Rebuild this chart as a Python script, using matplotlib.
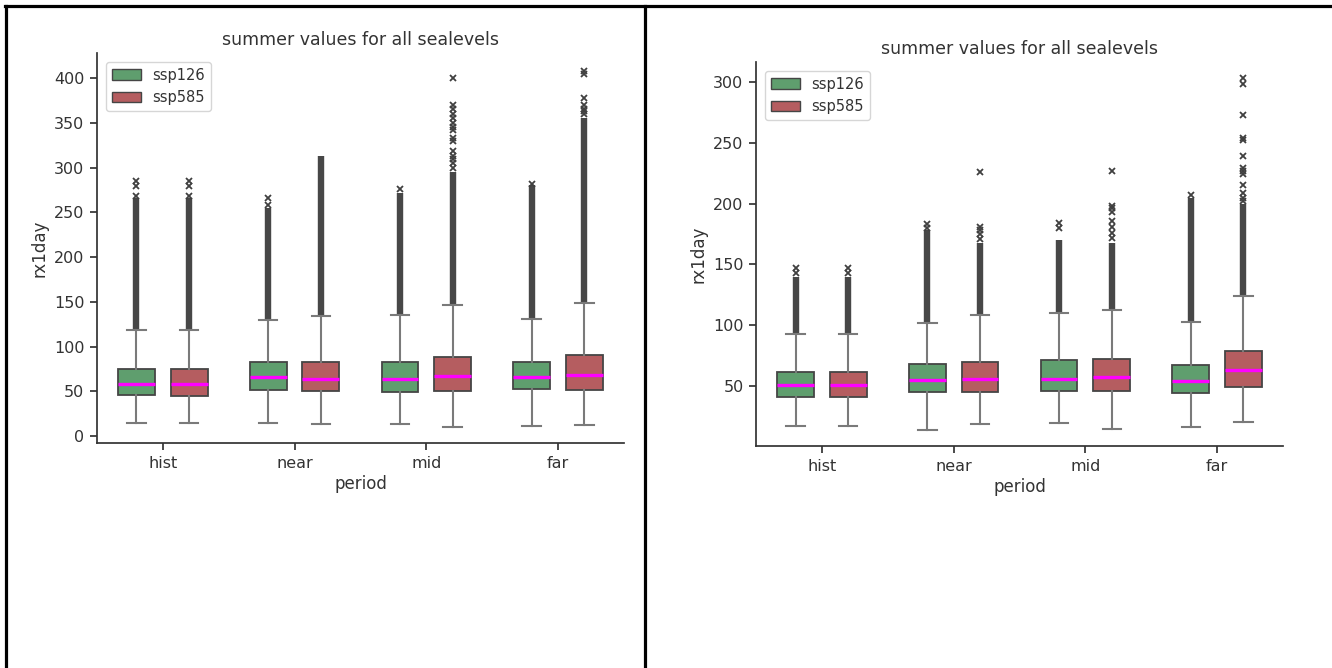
import numpy as np
import matplotlib
matplotlib.use("Agg")
import matplotlib.pyplot as plt
from matplotlib.lines import Line2D
from matplotlib.patches import Patch

# periods on the x axis
periods = ['hist', 'near', 'mid', 'far']

# ---- left screenshot: box stats ----
l126_q1 = [45.5, 51.1, 48.9, 52.2]
l126_med = [58.6, 65.7, 64.2, 65.7]
l126_q3 = [74.6, 83.2, 83.2, 83.2]
l126_lo = [14.9, 14.9, 13.4, 11.2]
l126_hi = [118.7, 129.5, 135.4, 130.6]
l126_dense_top = [266, 255, 272, 280]   # top of the packed flier column
l126_fliers = [[268, 279, 285], [258, 266], [276], [282]]

l585_q1 = [44.8, 50.0, 50.0, 51.1]
l585_med = [58.6, 64.2, 66.8, 68.3]
l585_q3 = [74.6, 83.2, 88.0, 90.7]
l585_lo = [14.9, 13.4, 10.0, 12.3]
l585_hi = [118.7, 134.3, 145.9, 148.5]
l585_dense_top = [266, 313, 295, 355]
l585_fliers = [[268, 279, 285], [],
               [300, 305, 310, 313, 318, 330, 333, 342, 345, 350, 355,
                360, 365, 370, 400],
               [360, 363, 366, 370, 378, 405, 408]]

# ---- right screenshot ----
r126_q1 = [41.1, 45.0, 45.6, 43.9]
r126_med = [50.8, 55.3, 56.1, 54.4]
r126_q3 = [61.9, 68.0, 71.4, 67.2]
r126_lo = [17.2, 13.9, 20.0, 16.4]
r126_hi = [92.5, 101.9, 110.3, 102.8]
r126_dense_top = [140, 178, 170, 205]
r126_fliers = [[143, 147], [180, 183], [180, 184], [207]]

r585_q1 = [41.1, 45.0, 45.6, 48.9]
r585_med = [50.8, 56.1, 57.8, 63.0]
r585_q3 = [61.9, 69.7, 72.2, 79.2]
r585_lo = [17.2, 19.2, 14.7, 20.8]
r585_hi = [92.5, 108.0, 112.2, 124.0]
r585_dense_top = [140, 168, 168, 200]
r585_fliers = [[143, 147], [171, 175, 178, 181, 226],
               [172, 176, 181, 186, 193, 196, 198, 227],
               [202, 205, 209, 215, 224, 227, 229, 239, 252, 254, 273,
                298, 303]]

green = '#5f9e6e'
red = '#b55d60'
edge = '#454545'
whisk = '#7a7a7a'
txt = '#333333'

plt.rcParams['font.family'] = 'DejaVu Sans'
plt.rcParams['text.color'] = txt
plt.rcParams['axes.labelcolor'] = txt
plt.rcParams['xtick.color'] = txt
plt.rcParams['ytick.color'] = txt


def stats(q1, med, q3, lo, hi, fl):
    out = []
    for i in range(len(q1)):
        out.append({'q1': q1[i], 'med': med[i], 'q3': q3[i],
                    'whislo': lo[i], 'whishi': hi[i], 'fliers': fl[i]})
    return out


def draw(ax, groups, ylim, yticks):
    x = np.arange(len(periods))
    for (st, dense, color, off) in groups:
        pos = x + off
        # packed outliers drawn as a thick column
        ax.vlines(pos, [s['whishi'] for s in st], dense, color='#474747',
                  lw=4.6, zorder=1)
        ax.bxp(st, positions=pos, widths=0.28, patch_artist=True,
               capwidths=0.14, manage_ticks=False,
               boxprops=dict(facecolor=color, edgecolor=edge, lw=1.3),
               whiskerprops=dict(color=whisk, lw=1.5),
               capprops=dict(color=whisk, lw=1.5),
               medianprops=dict(color='#ff00ff', lw=2.4),
               flierprops=dict(marker='x', markersize=4.2,
                               markeredgecolor='#404040', mew=1.3))
    ax.set_xticks(x)
    ax.set_xticklabels(periods)
    ax.set_xlim(-0.5, 3.5)
    ax.set_ylim(*ylim)
    ax.set_yticks(yticks)
    ax.set_xlabel('period', fontsize=12, labelpad=3)
    ax.set_ylabel('rx1day', fontsize=12)
    ax.set_title('summer values for all sealevels', fontsize=12.5, pad=6)
    ax.tick_params(labelsize=11.5, length=5, width=1.25, pad=4)
    for s in ['top', 'right']:
        ax.spines[s].set_visible(False)
    for s in ['left', 'bottom']:
        ax.spines[s].set_linewidth(1.25)
        ax.spines[s].set_color(txt)
    handles = [Patch(facecolor=green, edgecolor=edge, label='ssp126'),
               Patch(facecolor=red, edgecolor=edge, label='ssp585')]
    ax.legend(handles=handles, loc='upper left', fontsize=10.5,
              borderaxespad=0.6, frameon=True)


fig = plt.figure(figsize=(13.32, 6.68), dpi=100)
ax1 = fig.add_axes([0.0728, 0.3368, 0.3956, 0.5838])
ax2 = fig.add_axes([0.5676, 0.3323, 0.3956, 0.5749])

draw(ax1, [(stats(l126_q1, l126_med, l126_q3, l126_lo, l126_hi, l126_fliers),
            l126_dense_top, green, -0.2),
           (stats(l585_q1, l585_med, l585_q3, l585_lo, l585_hi, l585_fliers),
            l585_dense_top, red, 0.2)],
     (-7.8, 428), np.arange(0, 401, 50))
draw(ax2, [(stats(r126_q1, r126_med, r126_q3, r126_lo, r126_hi, r126_fliers),
            r126_dense_top, green, -0.2),
           (stats(r585_q1, r585_med, r585_q3, r585_lo, r585_hi, r585_fliers),
            r585_dense_top, red, 0.2)],
     (0.7, 316.4), np.arange(50, 301, 50))

# black frames around the two screenshots
fig.add_artist(Line2D([0.0038, 1.0], [0.9903, 0.9903], color='black', lw=2.3))
fig.add_artist(Line2D([0.0045, 0.0045], [0.0, 0.9903], color='black', lw=2.3))
fig.add_artist(Line2D([0.4842, 0.4842], [0.0, 0.9903], color='black', lw=2.3))

fig.savefig('out.png', dpi=100)
